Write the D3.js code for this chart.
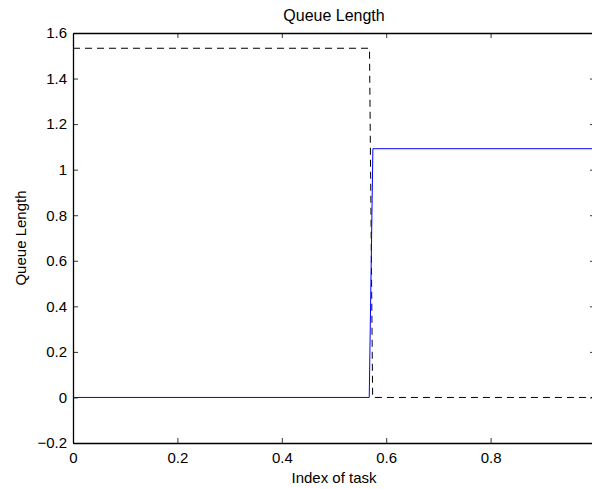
<!DOCTYPE html>
<html>
<head>
<meta charset="utf-8">
<script src="https://cdn.jsdelivr.net/npm/d3@7"></script>
<style>
  body { margin: 0; background: #fff; }
  text { font-family: "Liberation Sans", Arial, sans-serif; }
</style>
</head>
<body>
<div class="chart"></div>
<script>
// data
var queueX = [0, 0.5675, 0.5745, 1];
var queueY = [0, 0, 1.092, 1.092];
var dashX = [0, 0.568, 0.574, 1];
var dashY = [1.533, 1.533, 0, 0];
var xTicks = [0, 0.2, 0.4, 0.6, 0.8, 1];
var yTicks = [-0.2, 0, 0.2, 0.4, 0.6, 0.8, 1, 1.2, 1.4, 1.6];

var margin = { top: 33, right: -3, bottom: 46, left: 73 };
var W = 592, H = 489;
var width = W - margin.left - margin.right,
    height = H - margin.top - margin.bottom;

var x = d3.scaleLinear().domain([0, 1]).range([0, width]);
var y = d3.scaleLinear().domain([-0.2, 1.6]).range([height, 0]);

var svg = d3.select(".chart").append("svg")
    .attr("width", W)
    .attr("height", H);

var chart = svg.append("g")
    .attr("transform", "translate(" + margin.left + "," + margin.top + ")");

var fmt = function(d) { return d < 0 ? "\u2212" + Math.abs(d) : "" + d; };

// axes (ticks inward, matlab style)
chart.append("g")
    .attr("class", "x axis")
    .attr("transform", "translate(0," + height + ")")
    .call(d3.axisBottom(x).tickValues(xTicks).tickSizeInner(-5).tickSizeOuter(0).tickPadding(9).tickFormat(fmt));
chart.append("g")
    .attr("class", "x axis top")
    .call(d3.axisTop(x).tickValues(xTicks).tickSizeInner(-5).tickSizeOuter(0).tickFormat(""));
chart.append("g")
    .attr("class", "y axis")
    .call(d3.axisLeft(y).tickValues(yTicks).tickSizeInner(-5).tickSizeOuter(0).tickPadding(6).tickFormat(fmt));
chart.append("g")
    .attr("class", "y axis right")
    .attr("transform", "translate(" + width + ",0)")
    .call(d3.axisRight(y).tickValues(yTicks).tickSizeInner(-5).tickSizeOuter(0).tickFormat(""));

chart.selectAll(".axis path").attr("stroke", "#000").attr("stroke-width", 1.3);
chart.selectAll(".axis line").attr("stroke", "#000").attr("stroke-width", 0.8);
chart.selectAll(".axis text").attr("font-size", 15).attr("fill", "#000")
    .attr("font-family", "Liberation Sans, Arial, sans-serif");

var line = d3.line()
    .x(function(d) { return x(d[0]); })
    .y(function(d) { return y(d[1]); });

chart.append("path")
    .datum(dashX.map(function(v, i) { return [v, dashY[i]]; }))
    .attr("fill", "none")
    .attr("stroke", "#000")
    .attr("stroke-width", 1)
    .attr("stroke-dasharray", "7,5")
    .attr("d", line);

chart.append("path")
    .datum(queueX.map(function(v, i) { return [v, queueY[i]]; }))
    .attr("fill", "none")
    .attr("stroke", "#0000ff")
    .attr("stroke-width", 1)
    .attr("d", line);

// titles
svg.append("text")
    .attr("x", margin.left + width / 2)
    .attr("y", 21)
    .attr("text-anchor", "middle")
    .attr("font-size", 16)
    .text("Queue Length");

svg.append("text")
    .attr("x", margin.left + width / 2)
    .attr("y", 483)
    .attr("text-anchor", "middle")
    .attr("font-size", 15)
    .text("Index of task");

svg.append("text")
    .attr("transform", "translate(26," + (margin.top + height / 2) + ") rotate(-90)")
    .attr("text-anchor", "middle")
    .attr("font-size", 15)
    .text("Queue Length");
</script>
</body>
</html>
